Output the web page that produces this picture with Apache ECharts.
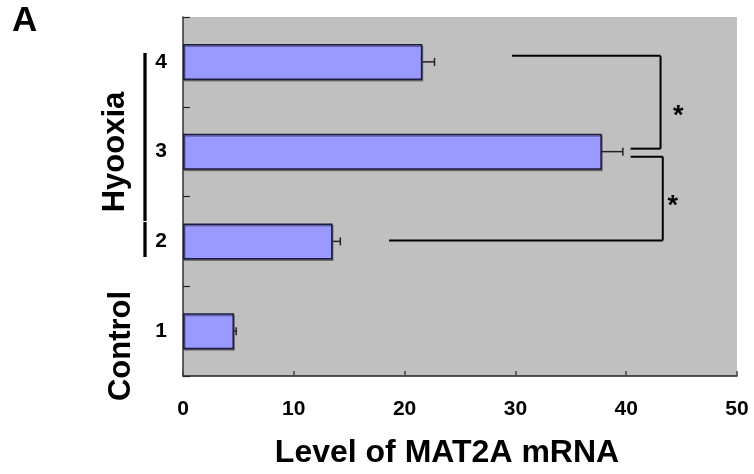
<!DOCTYPE html>
<html>
<head>
<meta charset="utf-8">
<script src="https://cdn.jsdelivr.net/npm/echarts@6/dist/echarts.min.js"></script>
<style>
  html, body { margin: 0; padding: 0; background: #fff; }
  #chart { width: 754px; height: 474px; }
</style>
</head>
<body>
<div id="chart"></div>
<script>
// Groups 1-4, drawn bottom to top
const categories = ['1', '2', '3', '4'];
const meanLevels = [4.6, 13.5, 37.8, 21.6];
const errorSizes = [0.2, 0.7, 1.9, 1.1];
const xTickValues = [0, 10, 20, 30, 40, 50];

// Significance brackets: [lower group index, upper group index, left end of lower arm, left end of upper arm, spine position]
const brackets = [
  [2, 3, 40.4, 29.7, 43.1],
  [1, 2, 18.6, 40.4, 43.3]
];
// Stars: [x position, lower group index, upper group index]
const starMarks = [[44.7, 2, 3], [44.2, 1, 2]];

const FONT = 'Liberation Sans, Arial, sans-serif';
const chart = echarts.init(document.getElementById('chart'));

chart.setOption({
  animation: false,
  backgroundColor: '#ffffff',
  grid: {
    left: 183, right: 17, top: 17, bottom: 98,
    containLabel: false,
    outerBoundsMode: 'none',
    show: true, backgroundColor: '#C0C0C0', borderWidth: 0
  },
  xAxis: {
    type: 'value',
    min: xTickValues[0],
    max: xTickValues[xTickValues.length - 1],
    interval: 10,
    splitLine: { show: false },
    axisLine: { show: true, lineStyle: { color: '#222', width: 1.5 } },
    axisTick: { show: true, inside: true, length: 5, lineStyle: { color: '#444', width: 1.5 } },
    axisLabel: { margin: 23, color: '#000', fontFamily: FONT, fontWeight: 'bold', fontSize: 21 },
    name: 'Level of MAT2A mRNA',
    nameLocation: 'middle',
    nameGap: 61,
    nameTextStyle: { color: '#000', fontFamily: FONT, fontWeight: 'bold', fontSize: 32, padding: [0, 26, 0, 0] }
  },
  yAxis: {
    type: 'category',
    data: categories,
    axisLine: { show: true, lineStyle: { color: '#333', width: 1.5 } },
    axisTick: { show: true, inside: true, length: 7, lineStyle: { color: '#222', width: 1.2 } },
    axisLabel: { margin: 16, color: '#000', fontFamily: FONT, fontWeight: 'bold', fontSize: 21 },
    splitLine: { show: false }
  },
  series: [
    {
      type: 'bar',
      data: meanLevels,
      barWidth: 36,
      itemStyle: {
        color: '#9999FF',
        borderColor: '#1c1c40',
        borderWidth: 1.5,
        shadowColor: 'rgba(0,0,0,0.35)',
        shadowOffsetX: 1,
        shadowOffsetY: 1.5
      },
      z: 2
    },
    {
      // error bars: stem from the bar end plus a vertical cap
      type: 'custom',
      data: meanLevels.map((m, i) => [i, m, m + errorSizes[i]]),
      encode: { y: 0, x: [1, 2] },
      renderItem: function (params, api) {
        const cat = api.value(0);
        const p0 = api.coord([api.value(1), cat]);
        const p1 = api.coord([api.value(2), cat]);
        const cap = 4;
        const style = { stroke: '#222', lineWidth: 1.5 };
        return {
          type: 'group',
          children: [
            { type: 'line', shape: { x1: p0[0], y1: p0[1], x2: p1[0], y2: p1[1] }, style: style },
            { type: 'line', shape: { x1: p1[0], y1: p1[1] - cap, x2: p1[0], y2: p1[1] + cap }, style: style }
          ]
        };
      },
      z: 3
    },
    {
      // significance brackets between neighbouring groups
      type: 'custom',
      data: brackets,
      encode: { x: [2, 3, 4] },
      renderItem: function (params, api) {
        const lo = api.value(0), hi = api.value(1);
        const band = api.size([0, 1])[1];
        const yLo = api.coord([0, lo])[1];
        const yHi = api.coord([0, hi])[1];
        const xSpine = api.coord([api.value(4), lo])[0];
        const lowArmX = api.coord([api.value(2), lo])[0];
        const upArmX = api.coord([api.value(3), hi])[0];
        const style = { stroke: '#000', lineWidth: 2 };
        // arms sit a little off the group centres
        const isTopPair = params.dataIndex === 0;
        const yUpper = isTopPair ? yHi - band * 0.067 : yHi + band * 0.056;
        const yLower = isTopPair ? yLo - band * 0.033 : yLo - band * 0.011;
        return {
          type: 'group',
          children: [
            { type: 'line', shape: { x1: upArmX, y1: yUpper, x2: xSpine, y2: yUpper }, style: style },
            { type: 'line', shape: { x1: xSpine, y1: yUpper, x2: xSpine, y2: yLower }, style: style },
            { type: 'line', shape: { x1: lowArmX, y1: yLower, x2: xSpine, y2: yLower }, style: style }
          ]
        };
      },
      z: 4
    },
    {
      type: 'custom',
      data: starMarks,
      encode: { x: 0 },
      renderItem: function (params, api) {
        const a = api.coord([api.value(0), api.value(1)]);
        const b = api.coord([api.value(0), api.value(2)]);
        return {
          type: 'text',
          style: {
            text: '*', x: a[0], y: (a[1] + b[1]) / 2 + 10, align: 'center', verticalAlign: 'middle',
            fill: '#000', font: 'bold 27px ' + FONT
          }
        };
      },
      z: 4
    }
  ],
  graphic: [
    {
      type: 'text', left: 12, top: 4,
      style: { text: 'A', fill: '#000', font: 'bold 35px ' + FONT }
    },
    {
      type: 'text', x: 115, y: 152, rotation: Math.PI / 2,
      style: { text: 'Hyooxia', fill: '#000', font: 'bold 31px ' + FONT, align: 'center', verticalAlign: 'middle' }
    },
    {
      type: 'text', x: 121, y: 346, rotation: Math.PI / 2,
      style: { text: 'Control', fill: '#000', font: 'bold 31px ' + FONT, align: 'center', verticalAlign: 'middle' }
    },
    {
      type: 'line', shape: { x1: 145, y1: 53, x2: 145, y2: 221 },
      style: { stroke: '#000', lineWidth: 3.3 }
    },
    {
      type: 'line', shape: { x1: 145, y1: 222, x2: 145, y2: 257 },
      style: { stroke: '#000', lineWidth: 3.3 }
    }
  ]
});
</script>
</body>
</html>
